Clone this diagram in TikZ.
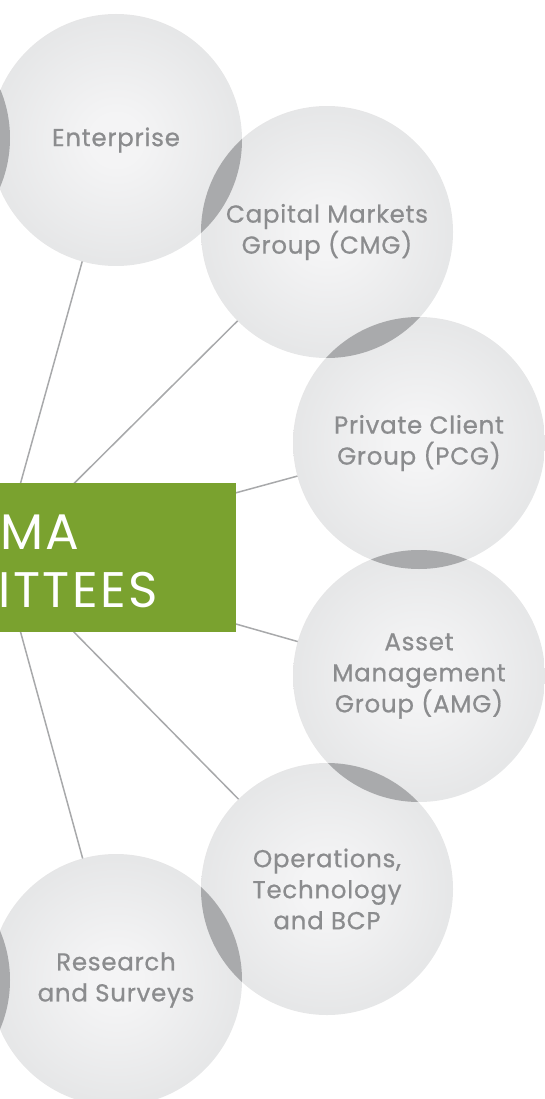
\documentclass[tikz,border=0pt]{standalone}
\usepackage{fontspec}
\newfontfamily\pop[FakeBold=0.7,LetterSpace=3]{Poppins}
\newfontfamily\popbig[LetterSpace=5]{Poppins}
\pgfdeclarelayer{bg}
\pgfsetlayers{bg,main}
\definecolor{ballin}{HTML}{F4F4F5}
\definecolor{ballmid}{HTML}{E2E3E4}
\definecolor{ballout}{HTML}{C7C8CA}
\definecolor{lensc}{HTML}{A9AAAC}
\definecolor{labelc}{HTML}{8B8C8E}
\definecolor{linec}{HTML}{A8A9AB}
\definecolor{boxgreen}{HTML}{7AA22F}
\pgfdeclareradialshading{ballshade}{\pgfpointorigin}{color(0bp)=(ballin); color(5bp)=(ballin); color(30bp)=(ballmid); color(50bp)=(ballout)}
\begin{document}
\begin{tikzpicture}[x=1pt,y=-1pt,
  ball/.style={circle, minimum size=252pt, inner sep=0pt, shading=ballshade, text=labelc, align=center, font=\pop\fontsize{24.5}{31}\selectfont},
  link/.style={draw=linec, line width=1.5pt},
  lens/.style={fill=lensc},
  boxtext/.style={anchor=base west, text=white, inner sep=0pt, font=\popbig\fontsize{50}{58}\selectfont}]
\useasboundingbox (0,0) rectangle (545,1099);
\clip (0,0) rectangle (545,1099);
\coordinate (hub) at (0,557);
\node[ball] (offA) at (-116,138) {};
\node[ball] (ent) at (116,140) {Enterprise};
\node[ball] (cmg) at (327,232) {Capital Markets\\Group (CMG)};
\node[ball] (pcg) at (419,443) {Private Client\\Group (PCG)};
\node[ball] (amg) at (419,676) {Asset\\Management\\Group (AMG)};
\node[ball] (ops) at (327,889) {Operations,\\Technology\\and BCP};
\node[ball] (res) at (116,980) {Research\\and Surveys};
\node[ball] (offB) at (-116,980) {};
\foreach \a/\b in {offA/ent, ent/cmg, cmg/pcg, pcg/amg, amg/ops, ops/res, res/offB} {
  \begin{scope}
    \clip (\a.center) circle (126pt);
    \fill[lens] (\b.center) circle (126pt);
  \end{scope}
}
\begin{pgfonlayer}{bg}
  \foreach \n in {ent,cmg,pcg,amg,ops,res} \draw[link] (hub) -- (\n.center);
\end{pgfonlayer}
\node[fill=boxgreen, minimum width=246pt, minimum height=149pt, inner sep=0pt, anchor=north west] (box) at (-10,483) {};
\node[boxtext] (t1) at (0,549) {MA};
\node[boxtext] (t2) at (-2,607) {ITTEES};
\end{tikzpicture}
\end{document}
